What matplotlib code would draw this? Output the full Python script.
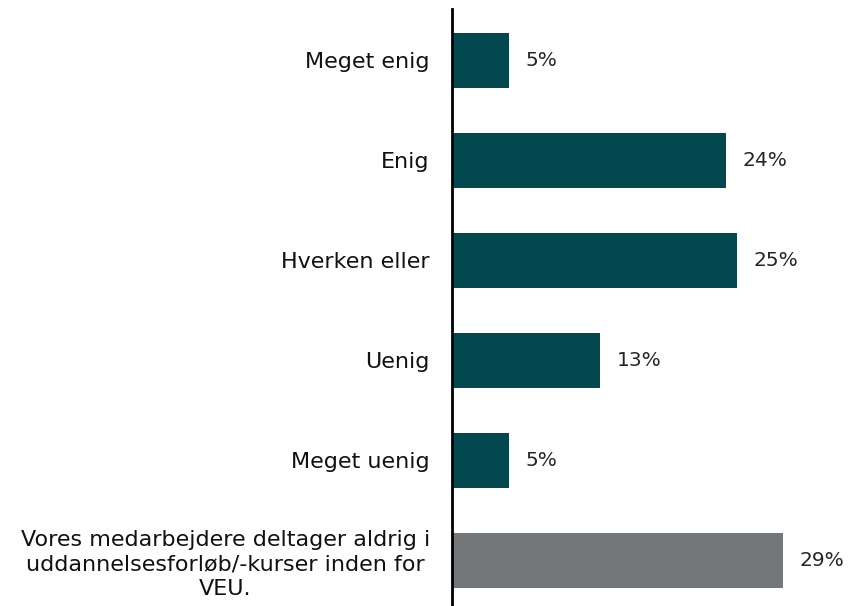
import matplotlib
matplotlib.use("Agg")
import matplotlib.pyplot as plt

categories = [
    "Meget enig",
    "Enig",
    "Hverken eller",
    "Uenig",
    "Meget uenig",
    "Vores medarbejdere deltager aldrig i\nuddannelsesforløb/-kurser inden for\nVEU.",
]
values = [5, 24, 25, 13, 5, 29]
colors = ["#03474f", "#03474f", "#03474f", "#03474f", "#03474f", "#747779"]

plt.rcParams["font.family"] = ["DejaVu Sans"]

fig = plt.figure(figsize=(8.49, 6.06), dpi=100)
W, H = 849, 606
ax = fig.add_axes([452 / W, 0, (W - 452) / W, (606 - 9) / H])

y = list(range(len(categories)))
ax.barh(y, values, height=0.55, color=colors)

for yi, v in zip(y, values):
    ax.annotate(f"{v}%", xy=(v, yi), xytext=(12, 0), textcoords="offset points",
                ha="left", va="center", fontsize=14.5, color="#262626")

ax.set_yticks(y)
ax.set_yticklabels(categories, fontsize=16, color="#111111",
                   multialignment="center", linespacing=1.28)
ax.tick_params(axis="y", length=0, pad=16)
ax.set_xticks([])
ax.set_ylim(5.46, -0.51)
ax.set_xlim(0, (W - 452) / 11.4)

for s in ["top", "right", "bottom"]:
    ax.spines[s].set_visible(False)
ax.spines["left"].set_linewidth(2)
ax.spines["left"].set_color("black")

fig.savefig("out.png", dpi=100)
